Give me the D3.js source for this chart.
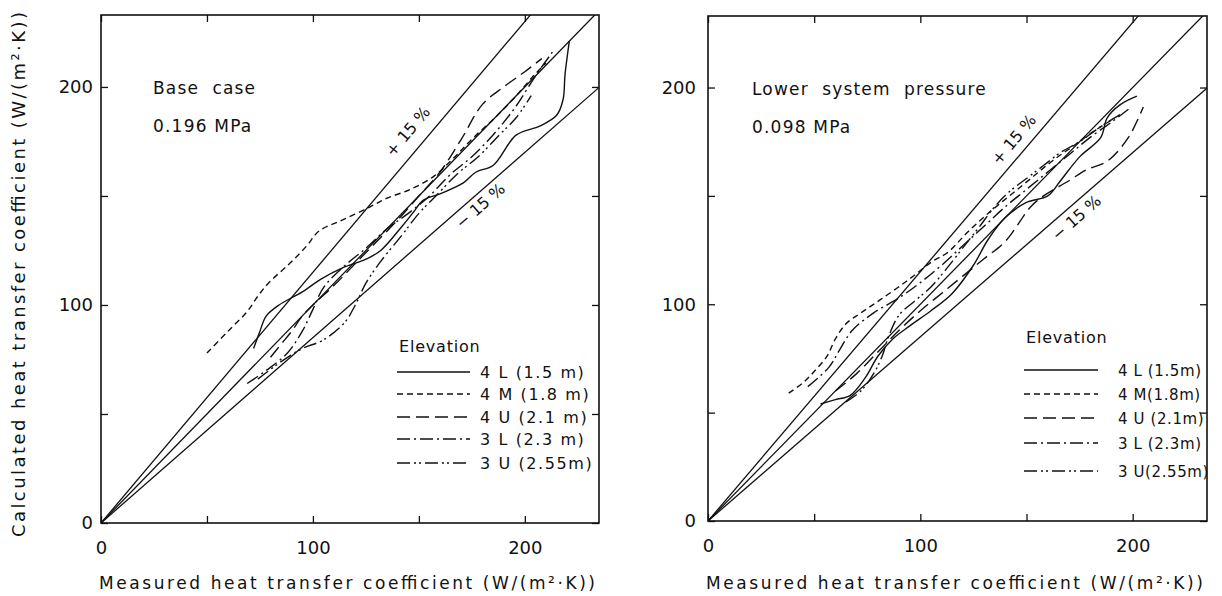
<!DOCTYPE html>
<html lang="en">
<head>
  <meta charset="UTF-8">
  <title>Calculated vs measured heat transfer coefficient</title>
  <script src="https://d3js.org/d3.v7.min.js"></script>
  <style>
    body {
      margin: 0;
      background: #fff;
    }

    text {
      font-family: "DejaVu Sans", sans-serif;
      fill: #111;
    }

    .series {
      fill: none;
      stroke: #111;
      stroke-width: 1.4px;
    }

    .guide {
      stroke: #111;
      stroke-width: 1.3px;
    }
  </style>
</head>
<body>

<svg width="1222" height="596"></svg>

<script>
  // axis ticks (inward on all four sides), only some get a number
  const tickValues = [0, 50, 100, 150, 200];
  const tickLabels = [0, 100, 200];

  // guide lines: calculated = k * measured
  const guideSlopes = [1.15, 1.0, 0.85];

  const elevationsLeft = ["4 L (1.5 m)", "4 M (1.8 m)", "4 U (2.1 m)", "3 L (2.3 m)", "3 U (2.55m)"];
  const elevationsRight = ["4 L (1.5m)", "4 M(1.8m)", "4 U (2.1m)", "3 L (2.3m)", "3 U(2.55m)"];
  const dashes = [null, "6,4", "13,6", "13,4,2,4", "13,4,2,3,2,4"];

  // base case, 0.196 MPa  [measured, calculated]
  const base4L = [[72, 80], [75, 88], [78, 95], [84, 100], [95, 106], [104, 112], [114, 117], [125, 121], [132, 125], [142, 136], [147, 142], [152, 148], [160, 151], [171, 156], [177, 161], [185, 164], [196, 178], [207, 182], [215, 187], [218, 194], [219, 206], [221, 221]];
  const base4M = [[50, 78], [60, 88], [69, 97], [74, 104], [79, 110], [89, 119], [97, 127], [103, 134], [114, 139], [127, 145], [135, 149], [146, 153], [157, 159], [166, 167], [175, 176], [186, 186], [196, 196], [204, 205], [210, 211]];
  const base4U = [[80, 76], [85, 82], [90, 88], [95, 95], [100, 100], [110, 109], [120, 119], [130, 129], [140, 139], [150, 150], [160, 161], [170, 176], [180, 192], [190, 200], [200, 207], [208, 213]];
  const base3L = [[69, 64], [78, 70], [88, 78], [95, 88], [100, 98], [105, 108], [115, 118], [125, 126], [135, 135], [145, 142], [155, 150], [165, 160], [175, 168], [185, 178], [195, 190], [205, 205], [213, 216]];
  const base3U = [[74, 66], [85, 74], [95, 80], [105, 84], [115, 92], [120, 100], [125, 110], [132, 120], [142, 132], [150, 142], [158, 150], [168, 160], [178, 168], [188, 178], [196, 186], [203, 196]];

  // lower system pressure, 0.098 MPa
  const low4L = [[53, 54], [60, 56], [67, 58], [74, 66], [80, 76], [87, 84], [95, 90], [105, 97], [115, 105], [125, 118], [132, 130], [140, 140], [150, 147], [160, 150], [166, 157], [175, 168], [185, 177], [188, 186], [194, 192], [202, 196]];
  const low4M = [[38, 59], [45, 64], [50, 69], [56, 76], [60, 84], [65, 91], [72, 96], [81, 102], [94, 111], [106, 120], [113, 124], [122, 133], [132, 142], [142, 150], [152, 158], [162, 166], [172, 173], [182, 180], [190, 185]];
  const low4U = [[60, 60], [70, 68], [80, 78], [90, 88], [100, 97], [110, 105], [120, 113], [130, 121], [140, 129], [152, 145], [158, 150], [170, 157], [178, 162], [188, 166], [198, 177], [205, 191]];
  const low3L = [[47, 62], [57, 71], [62, 79], [68, 88], [78, 96], [90, 103], [100, 110], [110, 118], [120, 127], [130, 136], [140, 145], [150, 153], [160, 161], [170, 169], [180, 177], [190, 184], [198, 190]];
  const low3U = [[65, 55], [72, 60], [78, 68], [82, 76], [85, 85], [90, 95], [98, 102], [105, 108], [112, 116], [120, 126], [128, 136], [135, 145], [142, 152], [150, 158], [158, 164], [166, 170], [175, 175], [185, 182], [195, 188]];

  const panels = [
    {
      id: "left", xr: [101, 599], yr: [523, 15],
      title: ["Base  case", "0.196 MPa"], titleX: 153,
      series: [base4L, base4M, base4U, base3L, base3U],
      names: elevationsLeft,
      legend: {x: 397, head: 352, rows: [372, 394, 417, 439, 463], len: 73, labelX: 480, size: 16, spacing: 1.6},
      plusLabel: [412, 135, -50], minusLabel: [484, 210, -41],
      yPad: 8, yTitle: true
    },
    {
      id: "right", xr: [708, 1207], yr: [521, 16],
      title: ["Lower  system  pressure", "0.098 MPa"], titleX: 752,
      series: [low4L, low4M, low4U, low3L, low3U],
      names: elevationsRight,
      legend: {x: 1024, head: 343, rows: [370, 394, 418, 443, 471], len: 74, labelX: 1118, size: 15, spacing: 0.6},
      plusLabel: [1018, 143, -50], minusLabel: [1080, 222, -41],
      yPad: 12, yTitle: false
    }
  ];

  const svg = d3.select("svg");

  panels.forEach(p => {
    const x = d3.scaleLinear().domain([0, 235]).range(p.xr);
    const y = d3.scaleLinear().domain([0, 233]).range(p.yr);
    const g = svg.append("g");

    g.append("clipPath").attr("id", "clip-" + p.id)
      .append("rect")
      .attr("x", p.xr[0]).attr("y", p.yr[1])
      .attr("width", p.xr[1] - p.xr[0]).attr("height", p.yr[0] - p.yr[1]);

    const fmt = d => tickLabels.includes(d) ? d : "";

    // axes with inward ticks
    const axes = [
      [d3.axisBottom(x).tickFormat(fmt).tickPadding(18), `translate(0,${p.yr[0]})`],
      [d3.axisTop(x).tickFormat(""), `translate(0,${p.yr[1]})`],
      [d3.axisLeft(y).tickFormat(fmt).tickPadding(p.yPad), `translate(${p.xr[0]},0)`],
      [d3.axisRight(y).tickFormat(""), `translate(${p.xr[1]},0)`]
    ];
    axes.forEach(([axis, tr]) => {
      const a = g.append("g").attr("transform", tr)
        .call(axis.tickValues(tickValues).tickSize(-7));
      a.select(".domain").remove();
      a.selectAll("line").attr("stroke", "#111").attr("stroke-width", 1.3);
      a.selectAll("text").attr("font-size", 18).attr("font-family", "DejaVu Sans").attr("fill", "#111");
    });

    g.append("rect")
      .attr("x", p.xr[0]).attr("y", p.yr[1])
      .attr("width", p.xr[1] - p.xr[0]).attr("height", p.yr[0] - p.yr[1])
      .attr("fill", "none").attr("stroke", "#111").attr("stroke-width", 1.6);

    // +15 %, 1:1 and -15 % lines
    g.selectAll(".guide")
      .data(guideSlopes)
      .enter()
      .append("line")
      .attr("class", "guide")
      .attr("clip-path", `url(#clip-${p.id})`)
      .attr("x1", x(0)).attr("y1", y(0))
      .attr("x2", x(300)).attr("y2", k => y(300 * k));

    const line = d3.line()
      .x(d => x(d[0]))
      .y(d => y(d[1]))
      .curve(d3.curveCatmullRom);

    g.selectAll(".series")
      .data(p.series)
      .enter()
      .append("path")
      .attr("class", "series")
      .attr("d", line)
      .attr("stroke-dasharray", (d, i) => dashes[i]);

    // case annotation
    g.append("text").attr("x", p.titleX).attr("y", y(200) + 7)
      .attr("font-size", 17).attr("letter-spacing", 1.2)
      .style("white-space", "pre").text(p.title[0]);
    g.append("text").attr("x", p.titleX).attr("y", y(200) + 45)
      .attr("font-size", 17).attr("letter-spacing", 1.2)
      .text(p.title[1]);

    g.append("text")
      .attr("transform", `translate(${p.plusLabel[0]},${p.plusLabel[1]}) rotate(${p.plusLabel[2]})`)
      .attr("text-anchor", "middle").attr("font-size", 16)
      .text("+ 15 %");
    g.append("text")
      .attr("transform", `translate(${p.minusLabel[0]},${p.minusLabel[1]}) rotate(${p.minusLabel[2]})`)
      .attr("text-anchor", "middle").attr("font-size", 16)
      .text("− 15 %");

    // legend
    const L = p.legend;
    g.append("text").attr("x", L.x + 2).attr("y", L.head)
      .attr("font-size", 16).attr("letter-spacing", 0.8).text("Elevation");
    p.names.forEach((name, i) => {
      g.append("line")
        .attr("class", "series")
        .attr("x1", L.x).attr("x2", L.x + L.len)
        .attr("y1", L.rows[i]).attr("y2", L.rows[i])
        .attr("stroke-dasharray", dashes[i]);
      g.append("text")
        .attr("x", L.labelX).attr("y", L.rows[i] + 6)
        .attr("font-size", L.size)
        .attr("letter-spacing", L.spacing)
        .style("white-space", "pre")
        .text(name);
    });

    // axis titles
    g.append("text")
      .attr("x", p.xr[0] - 2).attr("y", 589)
      .attr("font-size", 17)
      .attr("textLength", p.xr[1] - p.xr[0] - 2)
      .attr("lengthAdjust", "spacing")
      .text("Measured heat transfer coefficient (W/(m²·K))");

    if (p.yTitle) {
      g.append("text")
        .attr("transform", "translate(25,537) rotate(-90)")
        .attr("font-size", 18)
        .attr("textLength", 525)
        .attr("lengthAdjust", "spacing")
        .text("Calculated heat transfer coefficient (W/(m²·K))");
    }
  });
</script>

</body>
</html>
